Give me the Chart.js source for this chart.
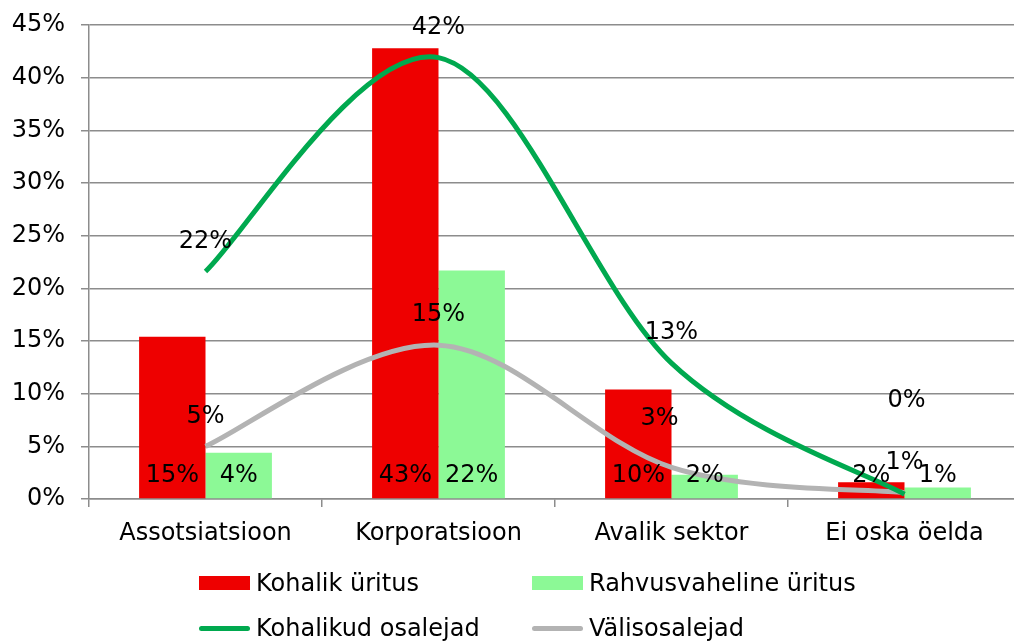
<!DOCTYPE html>
<html>
<head>
<meta charset="utf-8">
<script src="https://cdn.jsdelivr.net/npm/chart.js@4/dist/chart.umd.min.js"></script>
<style>
    html, body { margin: 0; padding: 0; background: #fff; overflow: hidden; }
    .wrap { position: relative; width: 1021px; height: 642px; }
    .legend {
        position: absolute;
        left: 0;
        top: 0;
        font-family: 'DejaVu Sans', sans-serif;
        font-size: 24px;
        color: #000;
    }
    .legend-item { position: absolute; display: flex; align-items: center; white-space: nowrap; }
    .legend-item .mark { width: 51px; margin-right: 6px; }
    .legend-item .mark.box { height: 14px; }
    .legend-item .mark.line { height: 5px; border-radius: 3px; }
</style>
</head>
<body>
<div class="wrap">
    <canvas id="chart" width="1021" height="642"></canvas>
    <div id="legend"></div>
</div>
<script>
// --- data ---
const categories = ['Assotsiatsioon', 'Korporatsioon', 'Avalik sektor', 'Ei oska öelda'];
const kohalikUritus = [15.4, 42.8, 10.4, 1.6];
const rahvusvahelineUritus = [4.4, 21.7, 2.3, 1.1];
const kohalikudOsalejad = [21.6, 41.9, 12.9, 0.45];
const valisosalejad = [5.0, 14.6, 3.0, 0.6];
const yTicks = [0, 5, 10, 15, 20, 25, 30, 35, 40, 45];

const fontFam = "'DejaVu Sans', sans-serif";
const gridColor = '#8c8c8c';

// Excel-style smoothing: control points at +-(next - prev)/6
const excelSmooth = {
    id: 'excelSmooth',
    beforeDatasetDraw(chart, args) {
        const meta = args.meta;
        if (meta.type !== 'line') return;
        meta.dataset.updateControlPoints(chart.chartArea, 'x');
        const pts = meta.data;
        pts.forEach((p, i) => {
            const prev = pts[i - 1] || p;
            const next = pts[i + 1] || p;
            const dx = (next.x - prev.x) / 6;
            const dy = (next.y - prev.y) / 6;
            p.cp1x = p.x - dx; p.cp1y = p.y - dy;
            p.cp2x = p.x + dx; p.cp2y = p.y + dy;
        });
    }
};

// labels: bars at the foot of the bar, lines above the point
const valueLabels = {
    id: 'valueLabels',
    afterDatasetsDraw(chart, args, opts) {
        const ctx = chart.ctx;
        ctx.save();
        ctx.font = '24px ' + fontFam;
        ctx.fillStyle = '#000';
        ctx.textAlign = 'center';
        ctx.textBaseline = 'middle';
        chart.data.datasets.forEach((ds, di) => {
            const meta = chart.getDatasetMeta(di);
            meta.data.forEach((el, i) => {
                const txt = Math.round(ds.data[i]) + '%';
                if (ds.type === 'line') {
                    const n = (opts.nudge || {})[di + '-' + i] || [0, 0];
                    ctx.fillText(txt, el.x + n[0], el.y - 30 + n[1]);
                } else {
                    ctx.fillText(txt, el.x, chart.chartArea.bottom - 23);
                }
            });
        });
        ctx.restore();
    }
};

const chart = new Chart(document.getElementById('chart'), {
    type: 'bar',
    data: {
        labels: categories,
        datasets: [
            {
                type: 'line', label: 'Kohalikud osalejad', data: kohalikudOsalejad,
                borderColor: '#00a94f', backgroundColor: '#00a94f', borderWidth: 5,
                pointRadius: 0, tension: 0.4, order: 0
            },
            {
                type: 'line', label: 'Välisosalejad', data: valisosalejad,
                borderColor: '#b3b3b3', backgroundColor: '#b3b3b3', borderWidth: 5,
                pointRadius: 0, tension: 0.4, order: 1
            },
            {
                label: 'Kohalik üritus', data: kohalikUritus,
                backgroundColor: '#ee0000', order: 2
            },
            {
                label: 'Rahvusvaheline üritus', data: rahvusvahelineUritus,
                backgroundColor: '#8cf996', order: 3
            }
        ]
    },
    options: {
        responsive: false,
        animation: false,
        layout: { padding: { top: 0, left: 0, right: 0, bottom: 0 } },
        datasets: { bar: { categoryPercentage: 0.57, barPercentage: 1.0 } },
        plugins: {
            legend: { display: false },
            tooltip: { enabled: false },
            valueLabels: { nudge: { '0-3': [2, -63], '1-2': [-12, -19] } }
        },
        scales: {
            x: {
                offset: true,
                grid: { display: true, drawOnChartArea: false, drawTicks: true, tickLength: 8, color: gridColor, lineWidth: 1.5, offset: true },
                border: { color: gridColor, width: 1.5 },
                ticks: { color: '#000', font: { family: fontFam, size: 24 }, padding: 12, maxRotation: 0 },
                afterFit: (s) => { s.height = 143; }
            },
            y: {
                min: 0, max: 45,
                afterBuildTicks: (s) => { s.ticks = yTicks.map(v => ({ value: v })); },
                grid: { color: gridColor, lineWidth: 1.5, tickLength: 8 },
                border: { color: gridColor, width: 1.5 },
                ticks: { color: '#000', font: { family: fontFam, size: 24, lineHeight: 0.75 }, padding: 16, callback: v => v + '%' },
                afterFit: (s) => { s.width = 89; }
            }
        }
    },
    plugins: [excelSmooth, valueLabels]
});

// legend laid out as a 2x2 grid like the original
const legendPos = {
    'Kohalik üritus': [199, 583], 'Rahvusvaheline üritus': [532, 583],
    'Kohalikud osalejad': [199, 628], 'Välisosalejad': [532, 628]
};
const legendEl = document.getElementById('legend');
legendEl.className = 'legend';
['Kohalik üritus', 'Rahvusvaheline üritus', 'Kohalikud osalejad', 'Välisosalejad'].forEach(name => {
    const ds = chart.data.datasets.find(d => d.label === name);
    const p = legendPos[name];
    const item = document.createElement('div');
    item.className = 'legend-item';
    item.style.left = p[0] + 'px';
    item.style.top = (p[1] - 15) + 'px';
    item.style.height = '30px';
    const mark = document.createElement('span');
    mark.className = 'mark ' + (ds.type === 'line' ? 'line' : 'box');
    mark.style.background = ds.type === 'line' ? ds.borderColor : ds.backgroundColor;
    const txt = document.createElement('span');
    txt.textContent = ds.label;
    item.appendChild(mark);
    item.appendChild(txt);
    legendEl.appendChild(item);
});
</script>
</body>
</html>
